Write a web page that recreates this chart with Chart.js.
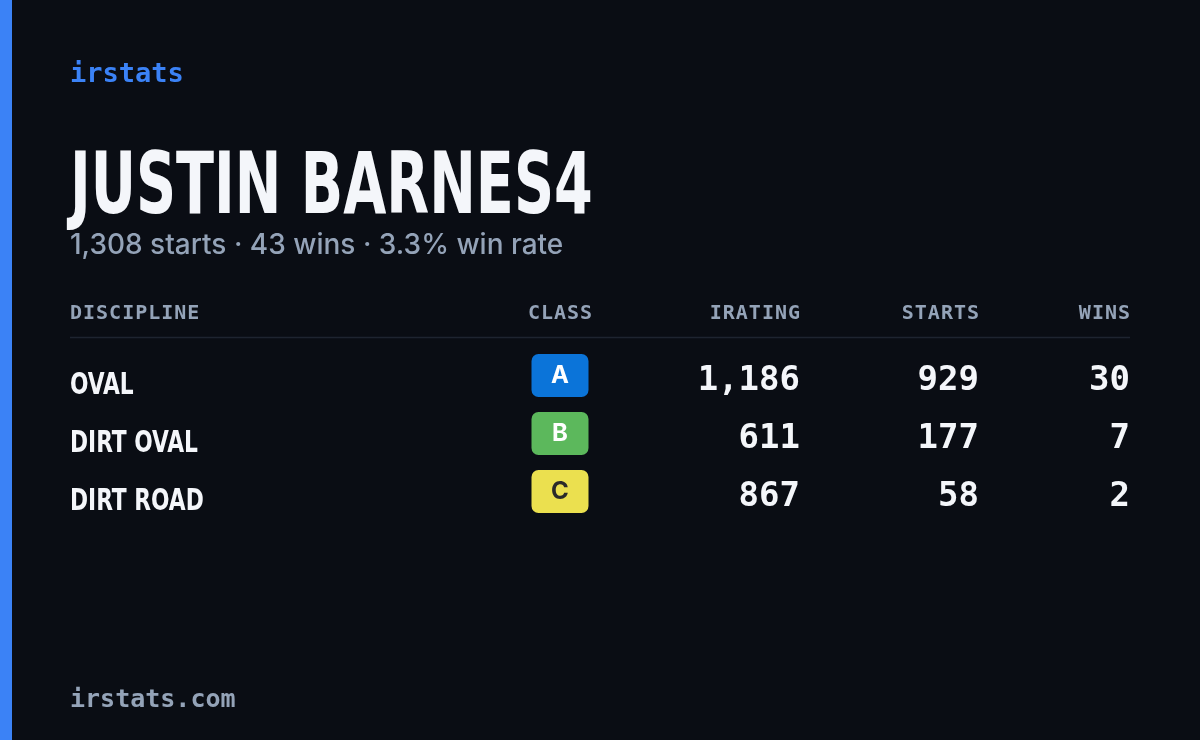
<!DOCTYPE html>
<html>
<head>
<meta charset="utf-8">
<script src="https://cdn.jsdelivr.net/npm/chart.js@4/dist/chart.umd.min.js"></script>
<style>
  html, body { margin: 0; padding: 0; background: #0a0d14; }
  canvas { display: block; }
</style>
</head>
<body>
<canvas id="card" width="1200" height="740"></canvas>
<script>
// datos de la tarjeta
var driverName = 'JUSTIN BARNES4';
var summary = '1,308 starts · 43 wins · 3.3% win rate';
var disciplines = ['OVAL', 'DIRT OVAL', 'DIRT ROAD'];
var classes = ['A', 'B', 'C'];
var iratings = [1186, 611, 867];
var starts = [929, 177, 58];
var wins = [30, 7, 2];
var headers = ['DISCIPLINE', 'CLASS', 'IRATING', 'STARTS', 'WINS'];

var classColors = { A: '#0b74d9', B: '#5cb85c', C: '#ebe04f' };
var classText = { A: '#ffffff', B: '#ffffff', C: '#2a2a2a' };

var mono = '"DejaVu Sans Mono", "Liberation Mono", monospace';
var cond = '"DejaVu Sans Condensed", "DejaVu Sans", sans-serif';
var sans = 'Inter, "Noto Sans", sans-serif';

function fmt(n) { return n.toLocaleString('en-US'); }

function spaced(ctx, text, x, y, spacing, align) {
    // texto con espaciado entre letras
    var w = 0;
    for (var i = 0; i < text.length; i++) w += ctx.measureText(text[i]).width + (i < text.length - 1 ? spacing : 0);
    var start = align === 'right' ? x - w : (align === 'center' ? x - w / 2 : x);
    ctx.textAlign = 'left';
    for (var j = 0; j < text.length; j++) {
        ctx.fillText(text[j], start, y);
        start += ctx.measureText(text[j]).width + spacing;
    }
}

var cardPlugin = {
    id: 'card',
    beforeDraw: function(chart) {
        var c = chart.ctx;
        c.save();
        c.fillStyle = '#0a0d14';
        c.fillRect(0, 0, 1200, 740);
        c.fillStyle = '#3b82f6';
        c.fillRect(0, 0, 12, 740);

        c.textBaseline = 'alphabetic';
        c.fillStyle = '#3b82f6';
        c.font = '600 27px ' + mono;
        c.fillText('irstats', 70, 82);

        c.fillStyle = '#f4f6fa';
        c.font = 'bold 86px ' + cond;
        c.save();
        c.translate(70, 213);
        c.scale(0.72, 1);
        c.fillText(driverName, 0, 0);
        c.restore();

        c.fillStyle = '#94a3b8';
        c.font = '500 28px ' + sans;
        c.fillText(summary, 70, 254);

        c.font = '600 20px ' + mono;
        c.fillStyle = '#94a3b8';
        c.textBaseline = 'middle';
        var x = chart.scales.x;
        spaced(c, headers[0], 70, 314, 1, 'left');
        spaced(c, headers[1], x.getPixelForValue(560), 314, 1, 'center');
        spaced(c, headers[2], x.getPixelForValue(800), 314, 1, 'right');
        spaced(c, headers[3], x.getPixelForValue(979), 314, 1, 'right');
        spaced(c, headers[4], x.getPixelForValue(1130), 314, 1, 'right');

        c.strokeStyle = '#1e2430';
        c.lineWidth = 1.5;
        c.beginPath();
        c.moveTo(70, 337.5);
        c.lineTo(1130, 337.5);
        c.stroke();
        c.restore();
    },
    afterDatasetsDraw: function(chart) {
        var c = chart.ctx;
        var x = chart.scales.x, y = chart.scales.y;
        c.save();
        c.textBaseline = 'middle';
        disciplines.forEach(function(d, i) {
            var py = y.getPixelForValue(i);
            c.fillStyle = '#f4f6fa';
            c.font = 'bold 31px ' + cond;
            c.save();
            c.translate(70, py + 8);
            c.scale(0.78, 1);
            c.textAlign = 'left';
            c.fillText(d, 0, 0);
            c.restore();

            // insignia de clase
            var bx = x.getPixelForValue(560);
            c.fillStyle = classColors[classes[i]];
            c.beginPath();
            c.roundRect(bx - 28.5, py - 24, 57, 43, 7);
            c.fill();
            c.fillStyle = classText[classes[i]];
            c.font = 'bold 24px ' + sans;
            c.textAlign = 'center';
            c.fillText(classes[i], bx, py - 2);

            c.fillStyle = '#f4f6fa';
            c.font = 'bold 34px ' + mono;
            c.textAlign = 'right';
            c.fillText(fmt(iratings[i]), x.getPixelForValue(800), py + 3);
            c.fillText(fmt(starts[i]), x.getPixelForValue(979), py + 3);
            c.fillText(fmt(wins[i]), x.getPixelForValue(1130), py + 3);
        });

        c.fillStyle = '#94a3b8';
        c.font = 'bold 25px ' + mono;
        c.textAlign = 'left';
        c.fillText('irstats.com', 70, 700);
        c.restore();
    }
};

var ctx = document.getElementById('card').getContext('2d');
var chart = new Chart(ctx, {
    type: 'scatter',
    data: {
        labels: disciplines,
        datasets: [{
            data: disciplines.map(function(d, i) { return { x: 560, y: i }; }),
            pointRadius: 0
        }]
    },
    options: {
        responsive: false,
        animation: false,
        devicePixelRatio: 1,
        layout: { padding: { left: 70, right: 70, top: 378, bottom: 246 } },
        plugins: { legend: { display: false }, tooltip: { enabled: false } },
        scales: {
            x: { type: 'linear', min: 70, max: 1130, display: false },
            y: { type: 'linear', min: 0, max: 2, reverse: true, display: false }
        }
    },
    plugins: [cardPlugin]
});
</script>
</body>
</html>
